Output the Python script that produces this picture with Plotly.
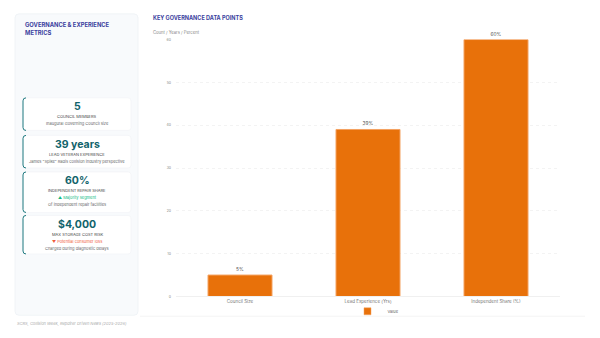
import plotly.graph_objects as go

categories = ["Council Size", "Lead Experience (Yrs)", "Independent Share (%)"]
values = [5, 39, 60]
bar_labels = ["5%", "39%", "60%"]
y_ticks = [0, 10, 20, 30, 40, 50, 60]

kpi_values = ["5", "39 years", "60%", "$4,000"]
kpi_titles = ["COUNCIL MEMBERS", "LEAD VETERAN EXPERIENCE", "INDEPENDENT REPAIR SHARE", "MAX STORAGE COST RISK"]
kpi_trends = ["", "", "▲ Majority segment", "▼ Potential consumer loss"]
kpi_notes = ["Inaugural Governing Council size",
             'James "Spike" Radis collision industry perspective',
             "Of independent repair facilities",
             "Charged during diagnostic delays"]

W, H = 600, 338
FONT = "Inter"
BAR = "#e8710a"


def px(x):
    return x / W


def py(y):
    return 1 - y / H


def rrect(x0, y0, x1, y1, r):
    rx, ry = r / W, r / H
    X0, X1 = px(x0), px(x1)
    Y0, Y1 = py(y0), py(y1)
    return (f"M {X0+rx},{Y0} L {X1-rx},{Y0} Q {X1},{Y0} {X1},{Y0-ry} "
            f"L {X1},{Y1+ry} Q {X1},{Y1} {X1-rx},{Y1} L {X0+rx},{Y1} "
            f"Q {X0},{Y1} {X0},{Y1+ry} L {X0},{Y0-ry} Q {X0},{Y0} {X0+rx},{Y0} Z")


def left_accent(x0, y0, y1, r):
    rx, ry = r / W, r / H
    X0 = px(x0)
    Y0, Y1 = py(y0), py(y1)
    return (f"M {X0+rx},{Y0} Q {X0},{Y0} {X0},{Y0-ry} L {X0},{Y1+ry} Q {X0},{Y1} {X0+rx},{Y1}")


def ann(text, x, y, size, color, xanchor="center", align="center"):
    return dict(text=text, x=px(x), y=py(y), xref="paper", yref="paper", xanchor=xanchor,
                yanchor="middle", align=align, showarrow=False,
                font=dict(size=size, color=color, family=FONT))


fig = go.Figure()
fig.add_trace(go.Bar(
    x=categories, y=values, name="Value", showlegend=False,
    marker=dict(color=BAR, line=dict(color="#f4a261", width=1)),
    text=bar_labels, textposition="outside", cliponaxis=False,
    textfont=dict(size=4.8, color="#555", family=FONT),
    width=0.5,
))
# legend entry with small square swatch
fig.add_trace(go.Scatter(
    x=[None], y=[None], mode="markers", name="Value",
    marker=dict(symbol="square", size=7, color=BAR, line=dict(color="#f4a261", width=0.5)),
))

shapes = []
annotations = []

# left panel
shapes.append(dict(type="path", path=rrect(15, 12, 138, 317, 4), xref="paper", yref="paper",
                   fillcolor="#f8fafc", line=dict(color="#eef1f5", width=0.8), layer="below"))
annotations.append(ann("<b>GOVERNANCE & EXPERIENCE<br>METRICS</b>", 23, 27, 5.8, "#3b3f9e",
                       xanchor="left", align="left"))

cards = [(97, 130), (135, 168), (172, 213), (216, 255)]
for i, (t, b) in enumerate(cards):
    shapes.append(dict(type="path", path=rrect(23, t, 131, b, 3), xref="paper", yref="paper",
                       fillcolor="#ffffff", line=dict(color="#f0f2f5", width=0.6), layer="below"))
    shapes.append(dict(type="path", path=left_accent(23, t, b, 3), xref="paper", yref="paper",
                       line=dict(color="#1f7a80", width=1), layer="below"))
    annotations.append(ann(f"<b>{kpi_values[i]}</b>", 77, t + 9, 10.5, "#11636b"))
    annotations.append(ann(kpi_titles[i], 77, t + 19, 4, "#444"))
    ny = t + 26
    if kpi_trends[i]:
        col = "#10b981" if i == 2 else "#ef5a3c"
        annotations.append(ann(kpi_trends[i], 77, t + 26, 4, col))
        ny = t + 33
    annotations.append(ann(kpi_notes[i], 77, ny, 4, "#666"))

# right title
annotations.append(ann("<b>KEY GOVERNANCE DATA POINTS</b>", 151, 16, 5.5, "#3b3f9e", xanchor="left"))
annotations.append(ann("Count / Years / Percent", 151, 30.5, 4.2, "#888", xanchor="left"))
# footer
annotations.append(ann("<i>SCRS, Collision Week, Repairer Driven News (2025-2026)</i>", 15, 325, 4, "#aaa",
                       xanchor="left"))
# separator line under legend
shapes.append(dict(type="line", x0=px(140), x1=px(585), y0=py(318), y1=py(318), xref="paper", yref="paper",
                   line=dict(color="#f0f0f0", width=0.8)))

fig.update_layout(
    width=W, height=H, margin=dict(l=0, r=0, t=0, b=0),
    paper_bgcolor="white", plot_bgcolor="white",
    font=dict(family=FONT),
    shapes=shapes, annotations=annotations,
    showlegend=True,
    legend=dict(orientation="h", x=px(376), xanchor="center", y=py(313), yanchor="middle",
                font=dict(size=4, color="#666", family=FONT), itemwidth=30,
                bgcolor="rgba(0,0,0,0)"),
    xaxis=dict(domain=[px(176), px(560)], showgrid=False, tickfont=dict(size=4.5, color="#777", family=FONT),
               ticks="", showline=True, linecolor="#f0f0f0", linewidth=0.8),
    yaxis=dict(domain=[py(298), py(38)], range=[0, 60], tickvals=y_ticks,
               tickfont=dict(size=3.5, color="#888", family=FONT),
               showgrid=True, gridcolor="#f3f3f3", griddash="dot", gridwidth=0.6,
               zeroline=False, ticklen=0, ticklabelstandoff=4),
    bargap=0.5,
)

fig.write_html("out.html")
